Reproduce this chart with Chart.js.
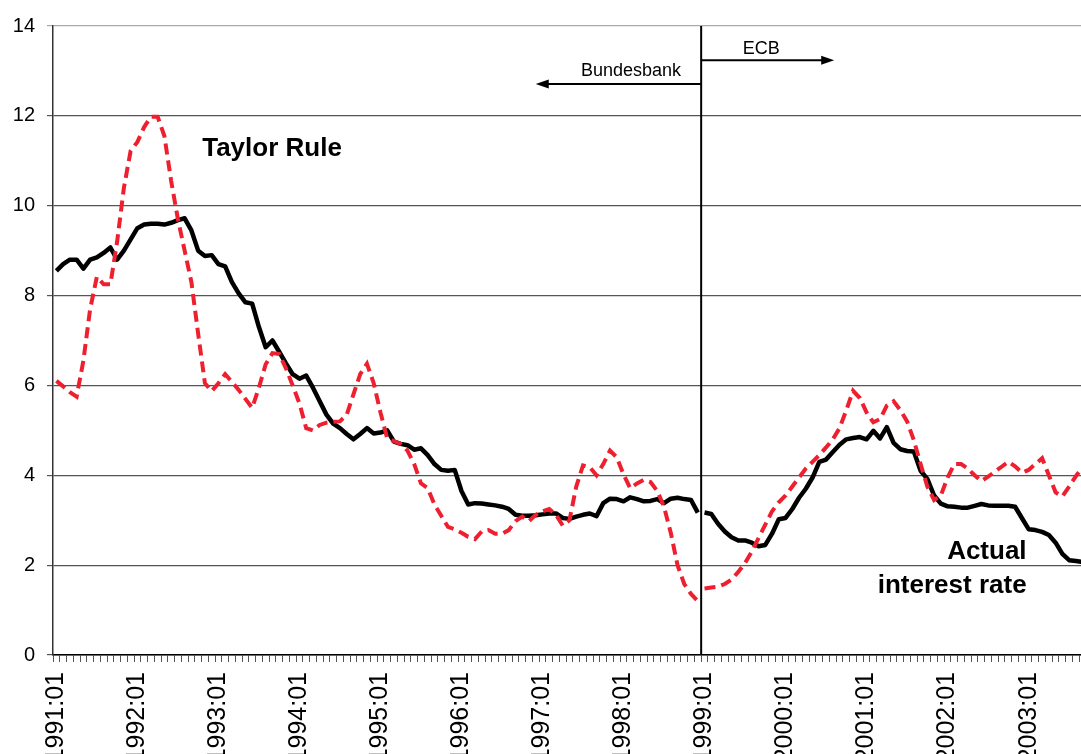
<!DOCTYPE html>
<html>
<head>
<meta charset="utf-8">
<script src="https://cdn.jsdelivr.net/npm/chart.js@4.4.0/dist/chart.umd.min.js"></script>
<style>
  html, body { margin: 0; padding: 0; background: #fff; overflow: hidden; }
  canvas { display: block; }
</style>
</head>
<body>
<canvas id="chart" width="1086" height="800"></canvas>
<script>
// monthly categories 1991:01 .. 2003:09
const months = [];
for (let y = 1991; y <= 2003; y++) {
    for (let m = 1; m <= 12; m++) {
        if (y === 2003 && m > 9) break;
        months.push(y + ":" + String(m).padStart(2, "0"));
    }
}

const yTicks = [0, 2, 4, 6, 8, 10, 12, 14];

// actual interest rate (black line)
const actualRate = [
    8.55, 8.70, 8.80, 8.80, 8.60, 8.80, 8.85, 8.95, 9.07, 8.80, 9.00, 9.25,
    9.50, 9.58, 9.60, 9.60, 9.58, 9.62, 9.68, 9.72, 9.45, 9.00, 8.88, 8.90,
    8.70, 8.65, 8.30, 8.05, 7.85, 7.82, 7.30, 6.85, 7.00, 6.75, 6.49, 6.25,
    6.15, 6.22, 5.95, 5.65, 5.35, 5.15, 5.05, 4.92, 4.80, 4.92, 5.05, 4.93,
    4.95, 5.00, 4.75, 4.70, 4.67, 4.57, 4.60, 4.45, 4.25, 4.12, 4.10, 4.12,
    3.65, 3.35, 3.38, 3.37, 3.35, 3.33, 3.30, 3.25, 3.12, 3.10, 3.10, 3.11,
    3.13, 3.15, 3.15, 3.05, 3.03, 3.08, 3.12, 3.15, 3.09, 3.38, 3.48, 3.47,
    3.42, 3.51, 3.47, 3.42, 3.43, 3.47, 3.38, 3.48, 3.50, 3.47, 3.45, 3.17,
    3.17, 3.14, 2.92, 2.75, 2.62, 2.55, 2.55, 2.50, 2.42, 2.45, 2.70, 3.02,
    3.05, 3.25, 3.50, 3.70, 3.95, 4.30, 4.35, 4.52, 4.68, 4.80, 4.83, 4.85,
    4.80, 4.99, 4.82, 5.07, 4.72, 4.58, 4.54, 4.53, 4.10, 3.92, 3.55, 3.37,
    3.31, 3.30, 3.28, 3.28, 3.32, 3.36, 3.33, 3.32, 3.32, 3.32, 3.30, 3.05,
    2.80, 2.78, 2.74, 2.67, 2.50, 2.25, 2.11, 2.09, 2.07
];

// Taylor rule rate (red dashed line)
const taylorRule = [
    6.10, 5.98, 5.85, 5.75, 6.55, 7.70, 8.42, 8.25, 8.25, 9.20, 10.40, 11.22,
    11.42, 11.75, 11.98, 11.98, 11.55, 10.55, 9.70, 9.00, 8.30, 7.15, 6.05, 5.87,
    6.05, 6.25, 6.08, 5.90, 5.70, 5.50, 5.95, 6.47, 6.72, 6.70, 6.38, 6.00,
    5.60, 5.05, 5.00, 5.12, 5.17, 5.19, 5.20, 5.35, 5.80, 6.25, 6.48, 6.05,
    5.40, 4.82, 4.76, 4.70, 4.55, 4.25, 3.82, 3.71, 3.35, 3.10, 2.85, 2.80,
    2.72, 2.63, 2.58, 2.75, 2.78, 2.70, 2.70, 2.78, 2.98, 3.08, 2.98, 3.12,
    3.20, 3.25, 3.12, 2.88, 3.00, 3.75, 4.22, 4.18, 4.00, 4.25, 4.55, 4.40,
    4.02, 3.71, 3.82, 3.90, 3.85, 3.65, 3.30, 2.72, 2.00, 1.58, 1.36, 1.20,
    1.48, 1.50, 1.52, 1.58, 1.68, 1.85, 2.05, 2.30, 2.60, 2.90, 3.20, 3.40,
    3.55, 3.75, 3.95, 4.15, 4.30, 4.45, 4.62, 4.80, 5.05, 5.45, 5.88, 5.72,
    5.40, 5.18, 5.25, 5.55, 5.65, 5.45, 5.20, 4.78, 4.25, 3.75, 3.45, 3.55,
    3.95, 4.25, 4.25, 4.15, 4.00, 3.87, 3.97, 4.08, 4.19, 4.30, 4.20, 4.06,
    4.12, 4.25, 4.38, 4.00, 3.62, 3.53, 3.75, 3.98, 4.18
];

// last Bundesbank month (1998:12); lines break after it
const regimeBreak = 95;

const FONT = "'Liberation Sans', Arial, Helvetica, sans-serif";
const RED = "rgb(238, 32, 48)";

function breakColor(color) {
    return (ctx) => (ctx.p0DataIndex === regimeBreak ? "rgba(0,0,0,0)" : color);
}

// texts, arrows, regime line (drawn on top of the chart)
const annotations = {
    id: "annotations",
    afterDatasetsDraw(chart) {
        const { ctx, chartArea, scales } = chart;
        const x = scales.x, y = scales.y;
        const lineX = (x.getPixelForValue(regimeBreak) + x.getPixelForValue(regimeBreak + 1)) / 2;

        ctx.save();
        // regime line
        ctx.strokeStyle = "#000";
        ctx.lineWidth = 2;
        ctx.beginPath();
        ctx.moveTo(lineX, chartArea.top);
        ctx.lineTo(lineX, chartArea.bottom);
        ctx.stroke();

        function arrow(x0, x1, yy) {
            const dir = Math.sign(x1 - x0);
            ctx.lineWidth = 2;
            ctx.beginPath();
            ctx.moveTo(x0, yy);
            ctx.lineTo(x1 - dir * 10, yy);
            ctx.stroke();
            ctx.beginPath();
            ctx.moveTo(x1, yy);
            ctx.lineTo(x1 - dir * 13, yy - 4.5);
            ctx.lineTo(x1 - dir * 13, yy + 4.5);
            ctx.closePath();
            ctx.fill();
        }
        ctx.fillStyle = "#000";
        arrow(lineX, x.getPixelForValue(115.2), y.getPixelForValue(13.24));
        arrow(lineX, x.getPixelForValue(71.0), y.getPixelForValue(12.71));

        ctx.font = "18px " + FONT;
        ctx.textAlign = "center";
        ctx.textBaseline = "alphabetic";
        ctx.fillText("ECB", x.getPixelForValue(104.4), y.getPixelForValue(13.38));
        ctx.fillText("Bundesbank", x.getPixelForValue(85.1), y.getPixelForValue(12.88));

        ctx.font = "bold 26px " + FONT;
        ctx.textAlign = "left";
        ctx.fillText("Taylor Rule", x.getPixelForValue(21.6), y.getPixelForValue(11.1));
        ctx.textAlign = "right";
        ctx.fillText("Actual", x.getPixelForValue(143.7), y.getPixelForValue(2.14));
        ctx.fillText("interest rate", x.getPixelForValue(143.7), y.getPixelForValue(1.38));
        ctx.restore();
    },
};

new Chart(document.getElementById("chart"), {
    type: "line",
    data: {
        labels: months,
        datasets: [
            {
                label: "Taylor Rule",
                data: taylorRule,
                borderColor: RED,
                borderWidth: 4,
                borderDash: [11, 6],
                borderCapStyle: "butt",
                pointRadius: 0,
                tension: 0,
                segment: { borderColor: breakColor(RED) },
            },
            {
                label: "Actual interest rate",
                data: actualRate,
                borderColor: "#000",
                borderWidth: 4.5,
                borderJoinStyle: "round",
                pointRadius: 0,
                tension: 0,
                segment: { borderColor: breakColor("#000") },
            },
        ],
    },
    options: {
        responsive: false,
        animation: false,
        devicePixelRatio: 1,
        layout: { padding: { top: 26, right: 0, left: 0, bottom: 0 } },
        plugins: {
            legend: { display: false },
            tooltip: { enabled: false },
        },
        scales: {
            x: {
                type: "category",
                offset: true,
                grid: {
                    offset: true,
                    drawOnChartArea: false,
                    drawTicks: true,
                    tickLength: 7,
                    color: "#555",
                },
                border: { color: "#000", width: 1.5 },
                ticks: {
                    autoSkip: false,
                    minRotation: 90,
                    maxRotation: 90,
                    padding: 10,
                    color: "#000",
                    font: { family: FONT, size: 25 },
                    callback: (v, i) => (months[i].endsWith(":01") ? months[i] : ""),
                },
                afterFit: (scale) => {
                    scale.height = 145;
                    scale.paddingLeft = 0;
                    scale.paddingRight = 0;
                },
            },
            y: {
                min: 0,
                max: 14,
                afterBuildTicks: (scale) => { scale.ticks = yTicks.map((v) => ({ value: v })); },
                grid: {
                    color: (c) => (c.tick && c.tick.value === 14 ? "#aaa" : "#555"),
                    lineWidth: 1.2,
                    tickLength: 6,
                },
                border: { color: "#333", width: 1.5 },
                ticks: {
                    padding: 12,
                    color: "#000",
                    font: { family: FONT, size: 20 },
                },
                afterFit: (scale) => { scale.width = 53; },
            },
        },
    },
    plugins: [annotations],
});
</script>
</body>
</html>
